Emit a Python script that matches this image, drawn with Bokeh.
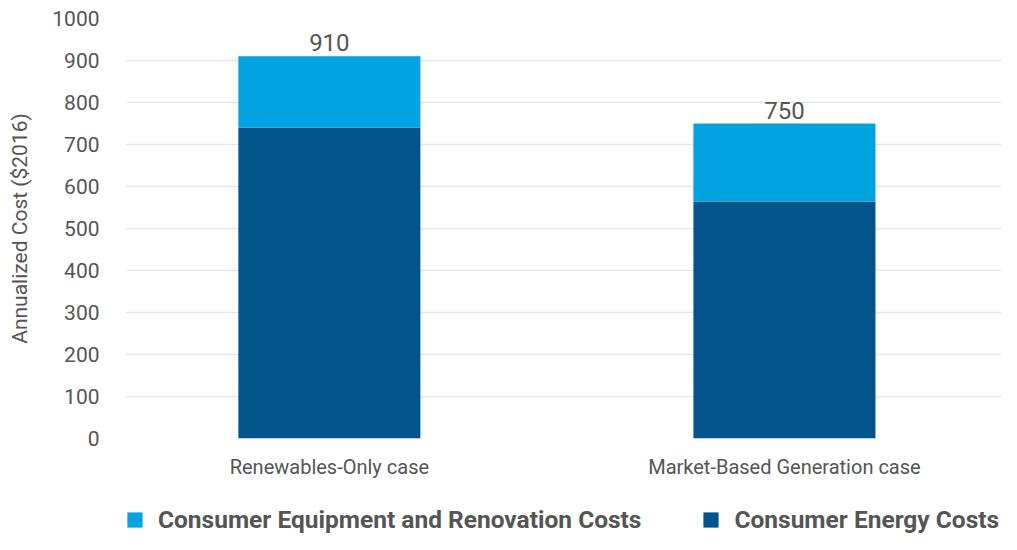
from bokeh.plotting import figure
from bokeh.layouts import column
from bokeh.models import ColumnDataSource, Range1d, FixedTicker, Legend, LegendItem
from bokeh.core.properties import value
from bokeh.embed import file_html
from bokeh.resources import INLINE

categories = ["Renewables-Only case", "Market-Based Generation case"]
energy_costs = [740, 564]
equipment_costs = [170, 186]
totals = [910, 750]
y_ticks = list(range(0, 1001, 100))
series_names = ["Consumer Equipment and Renovation Costs", "Consumer Energy Costs"]

FONT = "Roboto"
TEXT = "#555555"
LIGHT = "#03A2E0"
DARK = "#01558B"

xs = [i + 0.5 for i in range(len(categories))]
src = ColumnDataSource(dict(x=xs, energy=energy_costs, equipment=equipment_costs,
                            total=totals, label=[str(t) for t in totals]))

p = figure(width=1001, height=492, output_backend="svg", toolbar_location=None,
           x_range=Range1d(0.052, 1.977), y_range=Range1d(0, 1000),
           min_border_left=125, min_border_right=0, min_border_top=18,
           min_border_bottom=54)
p.outline_line_color = None
p.background_fill_color = "white"
p.border_fill_color = "white"

r = p.vbar_stack(["energy", "equipment"], x="x", width=0.4, source=src,
                 color=[DARK, LIGHT], line_color=None)

p.text(x="x", y="total", text="label", source=src, text_align="center",
       text_baseline="bottom", y_offset=-5, text_font=value(FONT),
       text_font_size="24px", text_color=TEXT)

p.xgrid.grid_line_color = None
p.ygrid.grid_line_color = "#E2E7EA"
p.ygrid.grid_line_width = 1.5
p.yaxis.ticker = FixedTicker(ticks=y_ticks)
p.xaxis.ticker = FixedTicker(ticks=xs)
p.xaxis.major_label_overrides = {x: c for x, c in zip(xs, categories)}

for ax in (p.xaxis, p.yaxis):
    ax.axis_line_color = None
    ax.major_tick_line_color = None
    ax.minor_tick_line_color = None
    ax.major_label_text_font = FONT
    ax.major_label_text_color = TEXT

p.yaxis.major_label_text_font_size = "21px"
p.yaxis.major_label_standoff = 20
p.yaxis.axis_label = "Annualized Cost ($2016)"
p.yaxis.axis_label_text_font = FONT
p.yaxis.axis_label_text_font_style = "normal"
p.yaxis.axis_label_text_font_size = "21px"
p.yaxis.axis_label_text_color = TEXT
p.yaxis.axis_label_standoff = 17

p.xaxis.major_label_text_font_size = "20px"
p.xaxis.major_label_standoff = 10

# legend strip below the chart (swatch renderers have zero size, so draw nothing)
lg = figure(width=1001, height=42, output_backend="svg", toolbar_location=None,
            x_axis_type=None, y_axis_type=None, x_range=Range1d(0, 1), y_range=Range1d(0, 1),
            min_border_left=125, min_border_right=0, min_border_top=0, min_border_bottom=0)
lg.outline_line_color = None
lg.grid.visible = False
lg.background_fill_color = "white"
lg.border_fill_color = "white"
hidden = ColumnDataSource(dict(x=[0.5], bottom=[0.5], top=[0.5]))
sw_light = lg.vbar(x="x", bottom="bottom", top="top", width=0, source=hidden,
                   color=LIGHT, line_color=None)
sw_dark = lg.vbar(x="x", bottom="bottom", top="top", width=0, source=hidden,
                  color=DARK, line_color=None)

legend = Legend(items=[LegendItem(label=series_names[0], renderers=[sw_light]),
                       LegendItem(label=series_names[1], renderers=[sw_dark])],
                orientation="horizontal", location=(0, 0),
                padding=0, margin=0, spacing=60, label_standoff=14,
                glyph_width=19, glyph_height=19, label_height=20,
                label_text_font=FONT, label_text_font_size="24.5px",
                label_text_font_style="bold", label_text_color=TEXT,
                border_line_color=None, background_fill_alpha=0)
lg.add_layout(legend)

layout = column(p, lg, spacing=0)
open("out.html", "w").write(file_html(layout, INLINE))
